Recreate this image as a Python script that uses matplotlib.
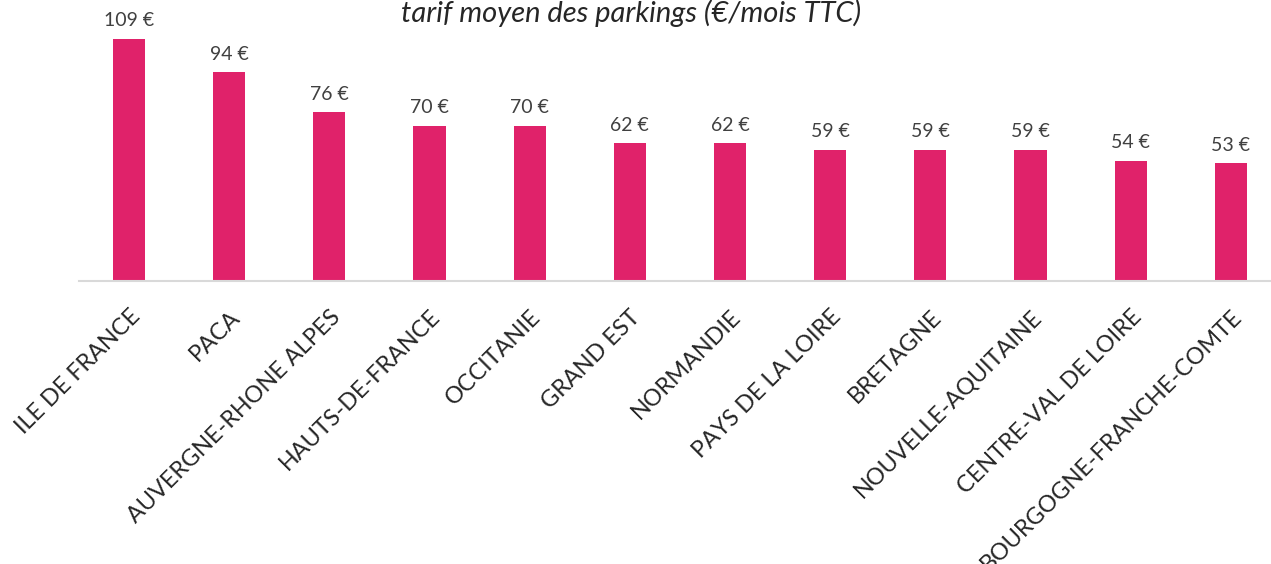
import matplotlib.pyplot as plt
import numpy as np

regions = ['ILE DE FRANCE', 'PACA', 'AUVERGNE-RHONE ALPES', 'HAUTS-DE-FRANCE',
           'OCCITANIE', 'GRAND EST', 'NORMANDIE', 'PAYS DE LA LOIRE', 'BRETAGNE',
           'NOUVELLE-AQUITAINE', 'CENTRE-VAL DE LOIRE', 'BOURGOGNE-FRANCHE-COMTE']
tarifs = [109, 94, 76, 70, 70, 62, 62, 59, 59, 59, 54, 53]

plt.rcParams['font.family'] = ['Lato', 'DejaVu Sans']

fig = plt.figure(figsize=(12.71, 5.64), dpi=100)
# axes geometry from the reference (pixels -> figure fraction)
ax = fig.add_axes([78.9 / 1271, 1 - 281 / 564, 1202 / 1271, 281 / 564])

x = np.arange(len(regions))
bars = ax.bar(x, tarifs, width=0.32, color='#E0226A')
ax.set_xlim(-0.5, len(regions) - 0.5)
ax.set_ylim(0, 281 / 2.22)

for xi, v in zip(x, tarifs):
    ax.annotate(f'{v} €', (xi, v), xytext=(0, 7), textcoords='offset points',
                ha='center', va='bottom', fontsize=14, color='#404040')

ax.set_xticks(x)
ax.set_xticklabels(regions, rotation=45, ha='right', rotation_mode='anchor',
                   fontsize=16.8, color='#262626')
ax.tick_params(axis='x', length=0, pad=18)
ax.set_yticks([])
for s in ['top', 'left', 'right']:
    ax.spines[s].set_visible(False)
ax.spines['bottom'].set_color('#D9D9D9')
ax.spines['bottom'].set_linewidth(1.5)

fig.text(631 / 1271, 1 - 13 / 564, 'tarif moyen des parkings (€/mois TTC)',
         ha='center', va='center', fontsize=21, style='italic', color='#262626')

fig.savefig('out.png', dpi=100)
